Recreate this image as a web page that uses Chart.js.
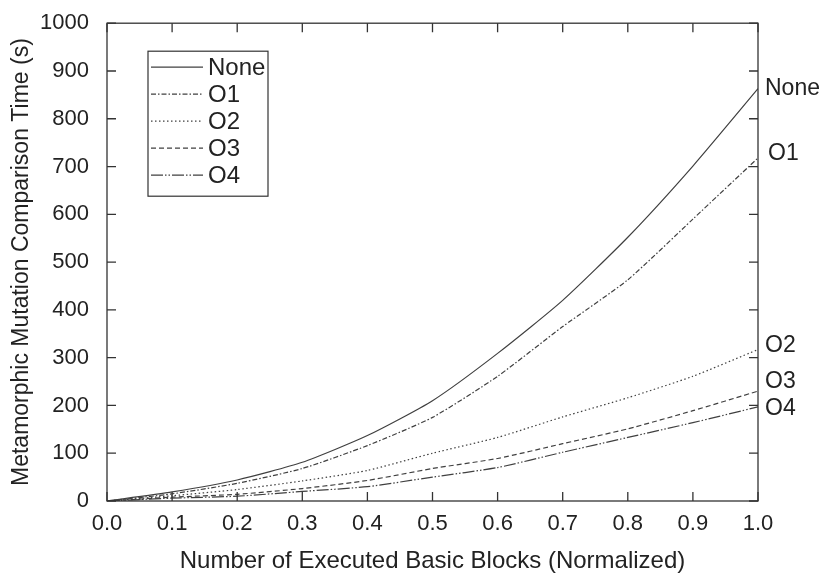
<!DOCTYPE html>
<html>
<head>
<meta charset="utf-8">
<script src="https://cdn.jsdelivr.net/npm/chart.js@4"></script>
<style>
  html, body { margin: 0; padding: 0; background: #fff; }
  #wrap { width: 834px; height: 573px; position: relative; }
</style>
</head>
<body>
<div id="wrap"><canvas id="chart"></canvas></div>
<script>
// data
const xValues = [0.0, 0.1, 0.2, 0.3, 0.4, 0.5, 0.6, 0.7, 0.8, 0.9, 1.0];
const seriesNames = ['None', 'O1', 'O2', 'O3', 'O4'];
const noneTimes = [0, 19, 44, 81, 137, 210, 309, 420, 552, 701, 863];
const o1Times   = [0, 15, 37, 68, 116, 175, 261, 365, 463, 590, 718];
const o2Times   = [0, 11, 24, 42, 64, 100, 133, 176, 216, 261, 317];
const o3Times   = [0, 8, 14, 26, 43, 68, 89, 120, 151, 189, 230];
const o4Times   = [0, 6, 10, 20, 30, 50, 70, 102, 133, 164, 197];
const xTicks = [0.0, 0.1, 0.2, 0.3, 0.4, 0.5, 0.6, 0.7, 0.8, 0.9, 1.0];
const yTicks = [0, 100, 200, 300, 400, 500, 600, 700, 800, 900, 1000];

const lineColor = '#404040';
const textColor = '#222';
const fontFamily = '"Liberation Sans", Arial, sans-serif';
const dashes = [[], [5, 2, 1.5, 2], [1.5, 2.5], [5, 3], [12, 2, 1.5, 2, 1.5, 2]];
const allSeries = [noneTimes, o1Times, o2Times, o3Times, o4Times];
// small vertical nudges for the end labels so they don't collide
const endLabelShift = [0, -4, -4, -9, 2];

const datasets = allSeries.map((vals, i) => ({
  label: seriesNames[i],
  data: xValues.map((x, j) => ({ x, y: vals[j] })),
  borderColor: lineColor,
  borderWidth: 1.2,
  borderDash: dashes[i],
  pointRadius: 0,
  tension: 0.2,
  fill: false
}));

// frame, inward ticks, legend box and end labels
const framePlugin = {
  id: 'frame',
  afterDraw(chart) {
    const { ctx, chartArea: a, scales } = chart;
    const xs = scales.x, ys = scales.y;
    const tl = 9;
    ctx.save();
    ctx.strokeStyle = '#333';
    ctx.lineWidth = 1.3;
    ctx.setLineDash([]);
    ctx.strokeRect(a.left, a.top, a.right - a.left, a.bottom - a.top);
    ctx.beginPath();
    xTicks.forEach(v => {
      const px = xs.getPixelForValue(v);
      ctx.moveTo(px, a.bottom); ctx.lineTo(px, a.bottom - tl);
      ctx.moveTo(px, a.top); ctx.lineTo(px, a.top + tl);
    });
    yTicks.forEach(v => {
      const py = ys.getPixelForValue(v);
      ctx.moveTo(a.left, py); ctx.lineTo(a.left + tl, py);
      ctx.moveTo(a.right, py); ctx.lineTo(a.right - tl, py);
    });
    ctx.stroke();

    // legend
    const lx = a.left + 41, ly = a.top + 28, lw = 120, lh = 145;
    ctx.fillStyle = '#fff';
    ctx.fillRect(lx, ly, lw, lh);
    ctx.lineWidth = 1.2;
    ctx.strokeRect(lx, ly, lw, lh);
    ctx.font = '24px ' + fontFamily;
    ctx.textBaseline = 'middle';
    ctx.fillStyle = textColor;
    seriesNames.forEach((name, i) => {
      const y = ly + 16 + i * 27;
      ctx.beginPath();
      ctx.setLineDash(dashes[i]);
      ctx.strokeStyle = lineColor;
      ctx.moveTo(lx + 3, y);
      ctx.lineTo(lx + 55, y);
      ctx.stroke();
      ctx.setLineDash([]);
      ctx.fillText(name, lx + 60, y + 1);
    });

    // labels at the right end of each curve
    ctx.font = '23px ' + fontFamily;
    ctx.textAlign = 'left';
    allSeries.forEach((vals, i) => {
      const py = ys.getPixelForValue(vals[vals.length - 1]) + endLabelShift[i];
      const px = a.right + (i === 1 ? 10 : 7);
      ctx.fillText(seriesNames[i], px, py);
    });
    ctx.restore();
  }
};

new Chart(document.getElementById('chart').getContext('2d'), {
  type: 'line',
  data: { datasets },
  options: {
    responsive: true,
    maintainAspectRatio: false,
    animation: false,
    layout: { padding: { left: 0, right: 76, top: 19, bottom: 0 } },
    plugins: { legend: { display: false }, tooltip: { enabled: false } },
    scales: {
      x: {
        type: 'linear',
        min: 0, max: 1,
        afterBuildTicks: axis => { axis.ticks = xTicks.map(v => ({ value: v })); },
        afterFit: axis => { axis.height = 72; },
        grid: { display: false },
        border: { display: false },
        ticks: {
          color: textColor, padding: 2,
          font: { family: fontFamily, size: 22 },
          callback: v => Number(v).toFixed(1),
          maxRotation: 0, autoSkip: false
        },
        title: {
          display: true,
          text: 'Number of Executed Basic Blocks (Normalized)',
          color: textColor,
          font: { family: fontFamily, size: 24, lineHeight: 1 },
          padding: { top: 4, bottom: 0 }
        }
      },
      y: {
        min: 0, max: 1000,
        afterBuildTicks: axis => { axis.ticks = yTicks.map(v => ({ value: v })); },
        afterFit: axis => { axis.width = 107; },
        grid: { display: false },
        border: { display: false },
        ticks: {
          color: textColor, padding: 10,
          font: { family: fontFamily, size: 22 },
          callback: v => String(v)
        },
        title: {
          display: true,
          text: 'Metamorphic Mutation Comparison Time (s)',
          color: textColor,
          font: { family: fontFamily, size: 23, lineHeight: 1 },
          padding: { top: 10, bottom: 0 }
        }
      }
    }
  },
  plugins: [framePlugin]
});
</script>
</body>
</html>
